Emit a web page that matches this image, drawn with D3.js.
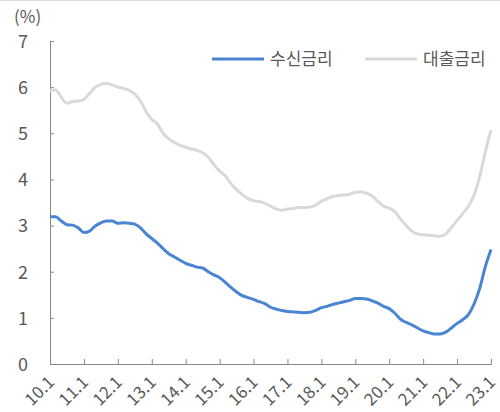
<!DOCTYPE html>
<html>
<head>
<meta charset="utf-8">
<script src="https://cdn.jsdelivr.net/npm/d3@7"></script>
<style>
  body { margin: 0; background: #fff; }
  svg text { font-family: "Noto Sans CJK KR", "Noto Sans", sans-serif; fill: #595959; }
</style>
</head>
<body>
<div id="chart"></div>
<script>
// Data: every 2 months from 2010.1 to 2023.1 (month index from 2010.1)
var monthIndex = d3.range(0, 157, 2);

var depositRate = [
  3.19, 3.19, 3.10, 3.02, 3.01, 2.95, 2.85, 2.88, 2.99, 3.06,
  3.10, 3.10, 3.05, 3.06, 3.05, 3.03, 2.95, 2.82, 2.72, 2.62,
  2.50, 2.39, 2.32, 2.25, 2.18, 2.14, 2.10, 2.08, 2.00, 1.93,
  1.87, 1.77, 1.66, 1.56, 1.48, 1.44, 1.40, 1.35, 1.31, 1.23,
  1.19, 1.16, 1.14, 1.13, 1.12, 1.11, 1.12, 1.16, 1.22, 1.25,
  1.29, 1.32, 1.35, 1.38, 1.42, 1.42, 1.41, 1.37, 1.32, 1.25,
  1.20, 1.10, 0.97, 0.90, 0.85, 0.78, 0.72, 0.68, 0.65, 0.65,
  0.69, 0.78, 0.88, 0.96, 1.07, 1.30, 1.64, 2.11, 2.48
];

var loanRate = [
  5.92, 5.94, 5.78, 5.65, 5.69, 5.70, 5.74, 5.86, 6.00, 6.06,
  6.08, 6.05, 6.00, 5.97, 5.93, 5.85, 5.70, 5.47, 5.30, 5.20,
  5.00, 4.88, 4.80, 4.74, 4.70, 4.66, 4.63, 4.58, 4.48, 4.32,
  4.18, 4.08, 3.91, 3.78, 3.67, 3.59, 3.54, 3.52, 3.48, 3.42,
  3.36, 3.33, 3.36, 3.37, 3.39, 3.39, 3.40, 3.44, 3.53, 3.58,
  3.63, 3.65, 3.66, 3.68, 3.72, 3.73, 3.70, 3.64, 3.52, 3.42,
  3.38, 3.30, 3.14, 3.00, 2.88, 2.82, 2.80, 2.79, 2.78, 2.77,
  2.82, 2.96, 3.11, 3.26, 3.42, 3.66, 4.06, 4.60, 5.07
];

var xTickLabels = ["10.1", "11.1", "12.1", "13.1", "14.1", "15.1", "16.1",
                   "17.1", "18.1", "19.1", "20.1", "21.1", "22.1", "23.1"];
var yTicks = [0, 1, 2, 3, 4, 5, 6, 7];
var seriesNames = ["수신금리", "대출금리"];
var seriesColors = ["#4a85d3", "#d9d9d9"];

var width = 500, height = 412;
var margin = {top: 41, right: 9, bottom: 48, left: 50};

var svg = d3.select("#chart").append("svg")
    .attr("width", width)
    .attr("height", height);

// top frame line
svg.append("line")
    .attr("x1", 0).attr("x2", width)
    .attr("y1", 0.5).attr("y2", 0.5)
    .attr("stroke", "#d9d9d9");

var x = d3.scaleLinear()
    .domain([0, 156])
    .range([margin.left, width - margin.right]);

var y = d3.scaleLinear()
    .domain([0, 7])
    .range([height - margin.bottom, margin.top]);

// y axis
var yAxis = svg.append("g")
    .attr("transform", "translate(" + margin.left + ",0)")
    .call(d3.axisRight(y).tickValues(yTicks).tickSize(4).tickFormat(d3.format("d")));
yAxis.select(".domain").attr("stroke", "#888");
yAxis.selectAll(".tick line").attr("stroke", "#888");
yAxis.selectAll(".tick text")
    .attr("x", -22)
    .attr("dy", "0.35em")
    .attr("text-anchor", "end")
    .style("font-size", "18px");

// x axis
var xAxis = svg.append("g")
    .attr("transform", "translate(0," + (height - margin.bottom) + ")")
    .call(d3.axisTop(x).tickValues(xTickLabels.map((d, i) => i * 12)).tickSize(5).tickFormat(""));
xAxis.select(".domain").attr("stroke", "#888");
xAxis.selectAll(".tick line").attr("stroke", "#888");

svg.append("g").selectAll("text")
    .data(xTickLabels)
    .enter().append("text")
    .attr("transform", (d, i) => "translate(" + (x(i * 12) - 3) + "," + (height - margin.bottom + 11) + ") rotate(-45)")
    .attr("text-anchor", "end")
    .attr("dy", "0.7em")
    .style("font-size", "17px")
    .text(d => d);

// unit label
svg.append("text")
    .attr("x", 14)
    .attr("y", 17)
    .attr("dy", "0.35em")
    .style("font-size", "17px")
    .text("(%)");

// lines
var line = d3.line()
    .x((d, i) => x(monthIndex[i]))
    .y(d => y(d))
    .curve(d3.curveMonotoneX);

[loanRate, depositRate].forEach(function(values, k){
    svg.append("path")
        .datum(values)
        .attr("fill", "none")
        .attr("stroke", k === 0 ? seriesColors[1] : seriesColors[0])
        .attr("stroke-width", 3)
        .attr("stroke-linejoin", "round")
        .attr("d", line);
});

// legend
var legendX = [212, 365];
var legend = svg.selectAll(".legend")
    .data(seriesNames)
    .enter().append("g")
    .attr("class", "legend")
    .attr("transform", (d, i) => "translate(" + legendX[i] + ",59)");

legend.append("line")
    .attr("x1", 0).attr("x2", 52)
    .attr("stroke", (d, i) => seriesColors[i])
    .attr("stroke-width", 3);

legend.append("text")
    .attr("x", 58)
    .attr("dy", "0.35em")
    .style("font-size", "17px")
    .text(d => d);
</script>
</body>
</html>
